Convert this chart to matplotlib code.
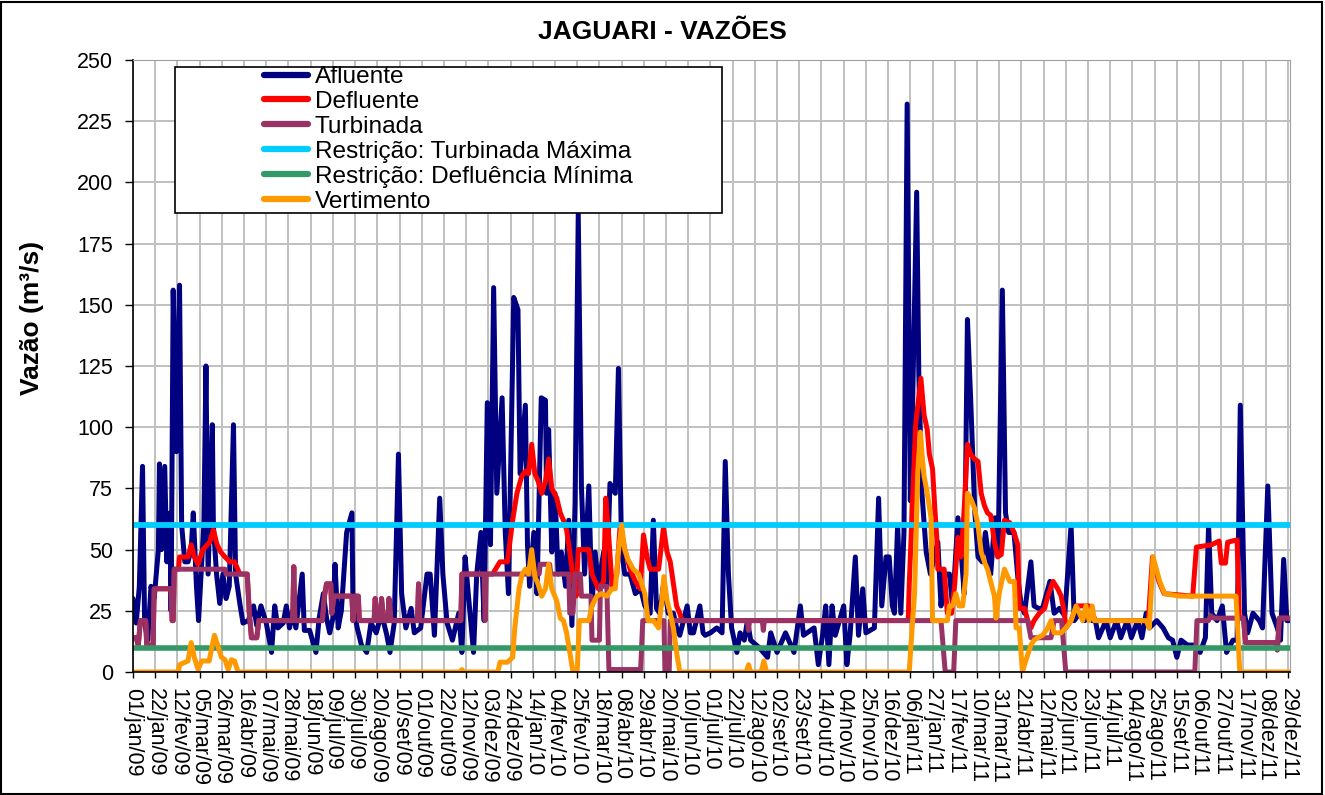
import matplotlib
matplotlib.use("Agg")
import matplotlib.pyplot as plt
from matplotlib.patches import Rectangle

# ---------------- data (day offsets from 01/jan/2009, values in m3/s) ----------------
afl_day = [0, 3, 6, 9, 11, 14, 17, 20, 24, 25, 27, 30, 32, 35, 36, 38, 41, 44, 46, 49, 52, 55, 57, 60, 62,
           65, 67, 69, 71, 73, 75, 76, 79, 82, 85, 88, 91, 95, 97, 101, 104, 109, 114, 117, 121, 126, 131,
           134, 137, 142, 145, 148, 151, 154, 160, 162, 167, 173, 176, 180, 183, 186,
           189, 191, 194, 197, 202, 207, 208, 212, 216, 221, 225, 230, 235, 240, 243, 247, 251, 254, 258,
           263, 266, 272, 278, 281, 285, 290, 293, 297, 302, 308, 311, 314, 317, 322, 325, 329, 332, 335,
           338, 341, 344, 349, 352, 355, 360, 364, 366,
           371, 373, 375, 379, 382, 386, 390, 391, 393, 396, 399, 402, 405, 409, 412, 415, 418, 421, 424,
           427, 431, 434, 437, 440, 445, 448, 451, 456, 459, 462, 465, 470, 475, 480, 484, 489, 492, 495,
           498, 502, 506, 511, 514, 517, 524, 527, 530, 536, 539,
           541, 546, 552, 557, 560, 563, 566, 571, 574, 578, 581, 584, 592, 600, 603, 609, 617, 625, 631,
           634, 644, 648, 652, 655, 658, 661, 664, 672, 675, 678, 683, 686, 690, 693, 701, 705, 708, 712,
           715, 718, 720, 723, 726, 729, 732, 735, 737, 741, 743, 746, 750, 754, 761, 764, 767, 772, 775,
           780, 783, 786, 789, 792, 796, 799, 803, 806, 811, 815, 818, 822, 825, 828, 833, 837, 840, 843,
           849, 852, 856, 860, 867, 871, 876, 881, 887, 890, 895, 900, 904,
           907, 910, 913, 920, 924, 930, 934, 940, 944, 950, 954, 958, 961, 968, 974, 979, 983, 987, 991,
           997, 1004, 1009, 1014, 1017, 1020, 1025, 1030, 1034, 1040, 1044, 1047, 1051, 1054, 1059, 1065,
           1068, 1073, 1077, 1082, 1085, 1088, 1091, 1094]
afl_val = [30, 20, 35, 84, 20, 13, 35, 30, 50, 85, 50, 84, 45, 65, 25, 156, 90, 158, 60, 45, 45, 50, 65, 35, 21,
           45, 60, 125, 40, 70, 101, 60, 40, 28, 40, 30, 35, 101, 40, 28, 20, 21, 27, 19, 27, 20, 8,
           27, 18, 20, 27, 18, 25, 18, 40, 17, 17, 8, 22, 32, 22, 16,
           22, 44, 18, 25, 57, 65, 27, 18, 11, 8, 20, 16, 24, 15, 8, 20, 89, 32, 18,
           26, 16, 18, 40, 40, 15, 71, 40, 20, 13, 24, 8, 47, 32, 8, 40, 57, 21, 110,
           52, 157, 73, 112, 57, 32, 153, 148, 81,
           109, 52, 35, 57, 32, 112, 111, 73, 99, 49, 73, 40, 49, 35, 62, 19, 69, 187, 76,
           40, 76, 27, 49, 35, 49, 35, 77, 73, 124, 49, 40, 40, 32, 34, 27, 24, 62, 26,
           24, 37, 24, 24, 18, 15, 27, 16, 16, 27, 16,
           15, 16, 18, 16, 86, 40, 18, 8, 16, 13, 21, 13, 10, 6, 16, 8, 16, 8, 27,
           15, 18, 3, 15, 27, 3, 27, 15, 27, 3, 15, 47, 15, 34, 16, 18, 71, 27, 47,
           47, 27, 24, 60, 24, 57, 232, 70, 106, 196, 122, 73, 49, 40, 53, 27, 40, 40, 27,
           63, 49, 32, 144, 112, 65, 47, 45, 57, 40, 63, 49, 156, 65, 57, 57, 37, 27, 24,
           45, 27, 26, 26, 37, 24, 26, 23, 60, 21, 24, 21, 24,
           21, 21, 14, 21, 14, 21, 14, 21, 14, 21, 14, 24, 18, 21, 18, 14, 13, 6, 13,
           11, 11, 8, 14, 60, 24, 21, 27, 8, 13, 13, 109, 24, 16, 24, 21,
           18, 76, 24, 18, 13, 46, 21, 21]

defl_day = [0, 3, 5, 7, 12, 13, 19, 20, 36, 37, 38, 39, 43, 44, 52, 55, 58, 61.5, 66, 72.5, 76, 79.5, 83, 87,
            91.5, 96, 99, 101, 108, 110, 112, 117, 119, 151, 152, 153, 179, 181, 183, 187, 188, 190, 207,
            208, 210, 213, 214, 228, 229, 231, 234, 235, 237, 241, 242, 244, 269, 270, 271, 310, 311, 340,
            347, 354, 359, 363, 367.6, 371, 374, 377, 380, 383, 386.5, 390, 393, 396, 400.7, 404, 407,
            410, 413, 416.5, 419, 421, 431, 434, 437, 440, 445, 447, 449.6, 453, 457.5, 460.6, 465, 470,
            475, 479.6, 482.7, 486, 489, 497, 501.6, 505, 508, 511, 514, 517, 519, 733,
            734, 740, 745, 748, 751, 753, 756, 758, 760, 761, 767, 770, 774, 777, 780, 783, 786, 789, 792,
            795.6, 799, 802, 805, 808, 811, 814.5, 817.6, 821, 824, 829, 833, 836.6, 838, 843, 846, 849,
            852, 857, 862, 865, 870, 874.4, 877.6, 880.7, 882, 887, 892, 904, 910, 960, 964, 970, 975,
            1002, 1005.5, 1020, 1027, 1029, 1033, 1035, 1044, 1046, 1050, 1052, 1080, 1082, 1084, 1094]
defl_val = [14, 14, 11, 21, 21, 11, 11, 34, 34, 21, 21, 42, 42, 47, 47, 52, 47, 44, 50, 53, 58, 52, 49, 47,
            45, 45, 42, 40, 40, 24, 14, 14, 21, 21, 43, 21, 21, 31, 36, 36, 24, 31, 31,
            21, 31, 31, 21, 21, 30, 21, 21, 30, 21, 21, 30, 21, 21, 36, 21, 21, 40, 40,
            45, 45, 62, 73, 80, 82, 81, 93, 81, 78, 73, 78, 87, 75, 71, 65, 62,
            58, 49, 37, 31, 50, 50, 40, 37, 34, 37, 71, 57, 35, 40, 60, 50, 42,
            37, 34, 56, 47, 42, 42, 59, 49, 45, 36, 27, 24, 21, 21,
            36, 101, 120, 105, 99, 89, 83, 68, 55, 42, 42, 24, 24, 36, 55, 47, 67, 93, 89,
            87, 86, 73, 68, 65, 64, 53, 47, 48, 62, 61, 57, 52, 26, 26, 21, 18,
            21, 24, 26, 31, 37, 34, 31, 24, 18, 21, 27, 27, 21, 21, 47, 37, 32,
            31, 51, 52, 53.5, 44.5, 44.5, 53, 54, 22, 22, 12, 12, 9, 22, 22]

turb_day = [0, 3, 5, 7, 12, 13, 19, 20, 36, 37, 38, 39, 87, 88, 108, 110, 112, 117, 119, 151, 152, 153, 179,
            181, 183, 187, 188, 190, 207, 208, 210, 213, 214, 228, 229, 231, 234, 235, 237, 241, 242, 244,
            269, 270, 271, 310, 311, 332, 333, 334, 384, 385, 394, 395, 412, 413, 416, 418, 423, 424, 433,
            434, 441, 442, 448, 450, 480, 482, 502, 503, 507, 508, 581, 582, 583, 595, 596, 597, 764, 768,
            776, 778, 846, 849, 868, 871, 878, 882, 1004, 1006, 1017, 1019, 1022, 1050, 1052, 1080, 1082,
            1084, 1094]
turb_val = [14, 14, 11, 21, 21, 11, 11, 34, 34, 21, 21, 42, 42, 40, 40, 24, 14, 14, 21, 21, 43, 21, 21,
            31, 36, 36, 24, 31, 31, 21, 31, 31, 21, 21, 30, 21, 21, 30, 21, 21, 30, 21,
            21, 36, 21, 21, 40, 40, 21, 40, 40, 44, 44, 40, 40, 24, 24, 40, 40, 31, 31,
            13, 13, 35, 35, 1, 1, 21, 21, 0, 0, 21, 21, 17, 21, 21, 17, 21, 21, 0,
            0, 21, 21, 14, 14, 21, 21, 0, 0, 21, 21, 23, 22, 22, 12, 12, 9,
            22, 22]

vert_day = [0, 43, 44, 52, 55, 58, 61.5, 65, 72, 75, 77, 80, 83.6, 87, 90, 93, 96, 99.4, 309, 311, 313, 345,
            347, 354, 359, 361, 363, 365, 368, 371, 374, 377, 380, 383, 386.5, 390, 393, 396, 400.7, 404,
            407, 410, 413, 416, 420, 422, 431, 434, 438.6, 443, 448, 452.8, 456, 459, 462, 465, 468, 473,
            478, 481, 484, 487, 492, 497, 500, 502, 505, 508, 511, 514, 517, 580, 582, 584, 594, 596.5, 599,
            734, 735.6, 739, 742, 744.5, 746, 748, 751, 754.6, 756, 770, 772, 775, 778, 781, 784.5, 787.7,
            789, 792, 795.6, 799, 802, 805, 808, 811, 814.5, 816, 819, 824, 829, 833.4, 835, 838, 841, 844,
            849, 852, 855.5, 860, 865, 868, 871, 877.6, 882, 887, 891.8, 898, 901, 904, 907, 909, 958, 961,
            964.5, 967.7, 970.8, 975.5, 990, 1043, 1046.5, 1094]
vert_val = [0, 0, 3, 4.5, 12, 6, 1, 4.5, 4.5, 11, 15, 11, 6, 5, 1, 5, 4.5, 0, 0, 1, 0, 0,
            4, 4, 6, 18, 26, 34, 40, 42, 40, 50, 39, 36, 31, 34, 44, 34, 29, 22,
            21, 16, 8, 0, 0, 21, 21, 27, 31, 32, 31, 34, 34, 49, 60, 50, 46, 42,
            40, 36, 32, 21, 21, 18, 29, 39, 29, 24, 18, 8, 0, 0, 3, 0, 0, 4.5, 0,
            0, 11, 32, 81, 98, 89, 80, 73, 63, 21, 21, 27, 27, 32, 27, 27, 40,
            73, 71, 67, 60, 49, 45, 42, 37, 31, 22, 32, 42, 37, 37, 18, 18, 0, 4.5,
            11, 13, 14, 15, 18, 21, 16, 16, 18, 21, 27, 21, 27, 21, 27, 21, 21, 18,
            47, 42, 37, 32, 31, 31, 0, 0]

restr_turb_max = 60
restr_defl_min = 10
period_days = [0, 1094]

tick_days_step = 21
tick_labels = ["01/jan/09", "22/jan/09", "12/fev/09", "05/mar/09", "26/mar/09", "16/abr/09", "07/mai/09",
               "28/mai/09", "18/jun/09", "09/jul/09", "30/jul/09", "20/ago/09", "10/set/09", "01/out/09",
               "22/out/09", "12/nov/09", "03/dez/09", "24/dez/09", "14/jan/10", "04/fev/10", "25/fev/10",
               "18/mar/10", "08/abr/10", "29/abr/10", "20/mai/10", "10/jun/10", "01/jul/10", "22/jul/10",
               "12/ago/10", "02/set/10", "23/set/10", "14/out/10", "04/nov/10", "25/nov/10", "16/dez/10",
               "06/jan/11", "27/jan/11", "17/fev/11", "10/mar/11", "31/mar/11", "21/abr/11", "12/mai/11",
               "02/jun/11", "23/jun/11", "14/jul/11", "04/ago/11", "25/ago/11", "15/set/11", "06/out/11",
               "27/out/11", "17/nov/11", "08/dez/11", "29/dez/11"]

# ---------------- figure ----------------
plt.rcParams['font.family'] = ['Liberation Sans', 'DejaVu Sans']
W, H = 1325, 795
fig = plt.figure(figsize=(W / 100, H / 100), dpi=100)
ax = fig.add_axes([133 / W, 1 - 672 / H, (1290 - 133) / W, (672 - 60) / H])

lw = 3.6
kw = dict(lw=lw, solid_joinstyle='round', solid_capstyle='round')
ax.plot(afl_day, afl_val, color='#000080', label='Afluente', **kw)
ax.plot(defl_day, defl_val, color='#FF0000', label='Defluente', **kw)
ax.plot(turb_day, turb_val, color='#993366', label='Turbinada', **kw)
ax.plot(period_days, [restr_turb_max] * 2, color='#00CCFF', label='Restrição: Turbinada Máxima',
        lw=4.2, solid_capstyle='butt')
ax.plot(period_days, [restr_defl_min] * 2, color='#339966', label='Restrição: Defluência Mínima',
        lw=4.0, solid_capstyle='butt')
ax.plot(vert_day, vert_val, color='#FF9900', label='Vertimento', **kw)

ax.set_xlim(period_days[0], period_days[1])
ax.set_ylim(0, 250)
ax.set_yticks(range(0, 251, 25))
ax.set_xticks([i * tick_days_step for i in range(len(tick_labels))])
ax.set_xticklabels(tick_labels, rotation=270, fontsize=15.5, ha='center', va='top')
ax.tick_params(axis='y', labelsize=15.5, length=5.8, width=1, direction='out', pad=8.5)
ax.tick_params(axis='x', length=4.3, width=1, direction='out', pad=7.5)
ax.grid(True, color='#C0C0C0', lw=1.4)
ax.set_axisbelow(True)
for s in ['top', 'right']:
    ax.spines[s].set_color('#A0A0A0')
for s in ['left', 'bottom']:
    ax.spines[s].set_color('black')
    ax.spines[s].set_linewidth(1.2)

# legend box
rect = Rectangle((175 / W, 1 - 213 / H), (722 - 175) / W, (213 - 67) / H, transform=fig.transFigure,
                 facecolor='white', edgecolor='black', lw=1.2, zorder=10, clip_on=False)
ax.add_patch(rect)
leg = ax.legend(loc='upper left', bbox_to_anchor=(264 / W, 1 - 66 / H), bbox_transform=fig.transFigure,
                frameon=False, fontsize=17.6, handlelength=1.8, handletextpad=0.28, labelspacing=0.115,
                borderpad=0, borderaxespad=0)
leg.set_zorder(11)
for l in leg.get_lines():
    l.set_linewidth(4.5)
    l.set_solid_capstyle('round')

fig.text(0.5, 1 - 32 / H, 'JAGUARI - VAZÕES', ha='center', va='center', fontsize=19, fontweight='bold')
fig.text(32 / W, 1 - 318 / H, 'Vazão (m³/s)', ha='center', va='center', rotation=90, fontsize=19,
         fontweight='bold')

fig.patches.append(Rectangle((0.001, 0.001), 0.997, 0.996, transform=fig.transFigure, fill=False,
                             edgecolor='black', lw=1.5))

fig.savefig('out.png', dpi=100)
